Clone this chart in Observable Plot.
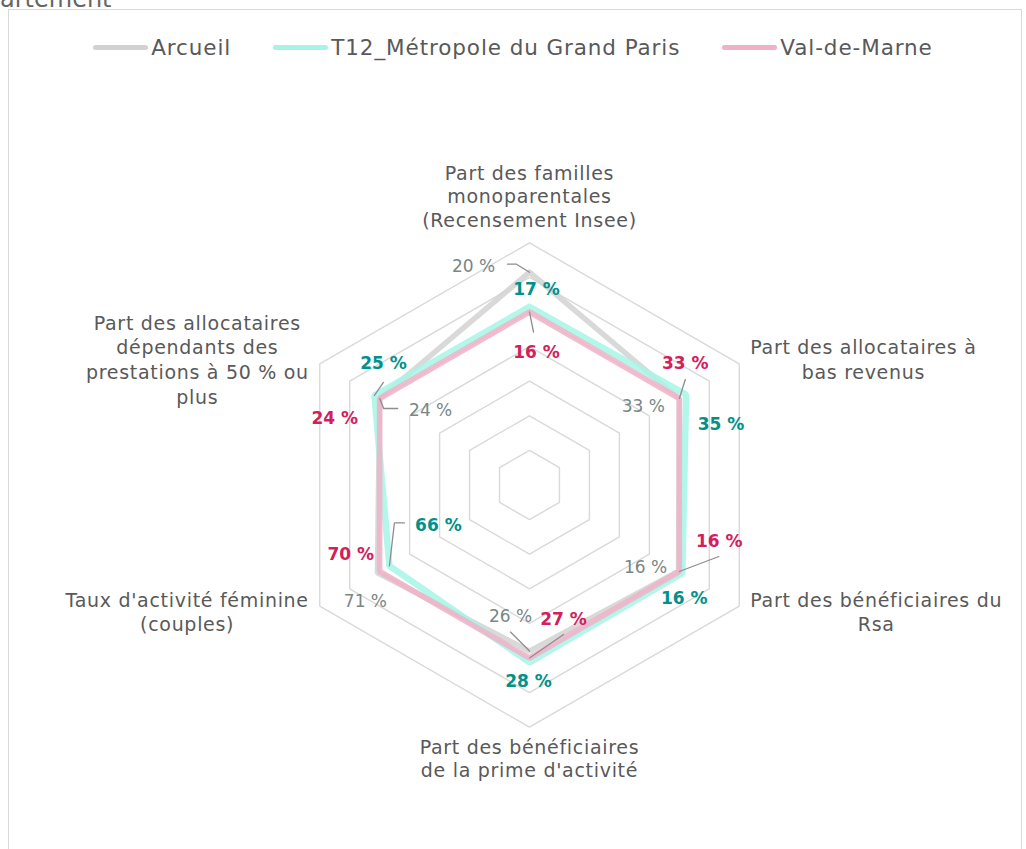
<!DOCTYPE html>
<html>
<head>
<meta charset="utf-8">
<script src="https://cdn.jsdelivr.net/npm/d3@7"></script>
<script src="https://cdn.jsdelivr.net/npm/@observablehq/plot@0.6"></script>
<style>
  body { margin: 0; background: #fff; font-family: "DejaVu Sans", sans-serif; }
  #wrap { position: relative; width: 1026px; height: 849px; overflow: hidden; background: #fff; }
  #frame { position: absolute; left: 8px; top: 9px; width: 1014px; height: 880px; border: 1px solid #d9d9d9; box-sizing: border-box; }
  #title { position: absolute; white-space: nowrap; color: #666; font-size: 24px; line-height: 24px; }
  #legend { position: relative; height: 66px; padding-top: 14px; display: flex; justify-content: center; align-items: center; gap: 42px; font-size: 21.5px; letter-spacing: 0.9px; color: #595959; }
  .item { display: flex; align-items: center; }
  .sw { width: 55px; height: 5px; border-radius: 3px; margin-right: 3px; }
  #chart { position: relative; }
  svg g.axl text, svg text.axl { letter-spacing: 0.7px; }
</style>
</head>
<body>
<div id="wrap">
  <div id="frame"></div>
  <div id="title"></div>
  <div id="legend"></div>
  <div id="chart"></div>
</div>
<script>
// ---------- DATA ----------
const series = ["Arcueil", "T12_Métropole du Grand Paris", "Val-de-Marne"];
const axisLabels = [
  "Part des familles\nmonoparentales\n(Recensement Insee)",
  "Part des allocataires à\nbas revenus",
  "Part des bénéficiaires du\nRsa",
  "Part des bénéficiaires\nde la prime d'activité",
  "Taux d'activité féminine\n(couples)",
  "Part des allocataires\ndépendants des\nprestations à 50 % ou\nplus"
];
// displayed values (%)
const arcueilPct = [20, 33, 16, 26, 71, 24];
const t12Pct     = [17, 35, 16, 28, 66, 25];
const vdmPct     = [16, 33, 16, 27, 70, 24];
// plotted index (Val-de-Marne = 100)
const arcueilIndex = [123, 100, 99.5, 96, 101.5, 100];
const t12Index     = [103, 104.5, 102, 102.5, 93.5, 103.5];
const vdmIndex     = [100, 100, 100, 100, 100, 100];
const gridLevels = [20, 40, 60, 80, 100, 120, 140];

// ---------- STYLES / LAYOUT ----------
const styles = {
  "Arcueil": {line: "#d2d2d2", width: 5.5, label: "#788686", weight: "normal"},
  "T12_Métropole du Grand Paris": {line: "#a6f4e6", width: 6.5, label: "#00918a", weight: "bold"},
  "Val-de-Marne": {line: "#f0b1c7", width: 5.5, label: "#d2205c", weight: "bold"}
};
// label offsets (px) from each vertex, with optional leader line points
const placements = {
  "Arcueil": [
    {dx: -56, dy: -6, leader: [[-13, -8], [-22, -8]]},
    {dx: -36, dy: 8},
    {dx: -33, dy: -4},
    {dx: -19, dy: -35, leader: [[-19, -19]]},
    {dx: -12, dy: 29},
    {dx: 51, dy: 12, leader: [[4, 10], [18, 10]]}
  ],
  "T12_Métropole du Grand Paris": [
    {dx: 7, dy: -17},
    {dx: 35, dy: 30},
    {dx: 2, dy: 25},
    {dx: -1, dy: 19},
    {dx: 49, dy: -40, leader: [[5, -43], [15, -43]]},
    {dx: 9, dy: -32, leader: [[9, -13]]}
  ],
  "Val-de-Marne": [
    {dx: 7, dy: 41, leader: [[4, 20]]},
    {dx: 6, dy: -35, leader: [[6, -19]]},
    {dx: 40, dy: -30, leader: [[39.5, -15]]},
    {dx: 34, dy: -38.5, leader: [[34, -23.5]]},
    {dx: -29, dy: -17},
    {dx: -45, dy: 20}
  ]
};

const seriesData = [
  {name: series[0], idx: arcueilIndex, pct: arcueilPct},
  {name: series[1], idx: t12Index, pct: t12Pct},
  {name: series[2], idx: vdmIndex, pct: vdmPct}
];

// ---------- GEOMETRY ----------
const W = 1026, H = 769;
const k = 1.73;            // px per index unit
const cx = 529, cy = 404.5; // centre in svg px
const xDomain = [-cx / k, (W - cx) / k];
const yDomain = [-(H - cy) / k, cy / k];
const n = axisLabels.length;
const ang = i => i * 2 * Math.PI / n;
const pt = (r, i) => ({x: r * Math.sin(ang(i)), y: r * Math.cos(ang(i))});

// grid
const gridRows = [];
gridLevels.forEach(l => { for (let i = 0; i <= n; i++) gridRows.push({level: l, ...pt(l, i % n)}); });

// series polygons
const polys = seriesData.map(s => {
  const rows = [];
  for (let i = 0; i <= n; i++) rows.push({series: s.name, ...pt(s.idx[i % n], i % n)});
  return rows;
});

// value labels + leaders
const labelRows = [], leaderRows = [];
seriesData.forEach(s => {
  s.pct.forEach((v, i) => {
    const p = pt(s.idx[i], i);
    const pl = placements[s.name][i];
    labelRows.push({series: s.name, text: `${v} %`, x: p.x + pl.dx / k, y: p.y - pl.dy / k});
    if (pl.leader) {
      const id = s.name + i;
      leaderRows.push({id, x: p.x, y: p.y});
      pl.leader.forEach(([dx, dy]) => leaderRows.push({id, x: p.x + dx / k, y: p.y - dy / k}));
    }
  });
});

// axis labels
const axisFont = 19, axisSpacing = 0.7;
const ctx = document.createElement("canvas").getContext("2d");
ctx.font = `${axisFont}px "DejaVu Sans"`;
const maxW = t => Math.max(...t.split("\n").map(l => ctx.measureText(l).width + l.length * axisSpacing));
const axisRows = axisLabels.map((t, i) => {
  const v = pt(140, i);
  const s = Math.sin(ang(i)), c = Math.cos(ang(i));
  let x = v.x, y = v.y, pos;
  if (Math.abs(s) < 0.01) {
    pos = c > 0 ? "top" : "bottom";
    y = c > 0 ? v.y + 16 / k : v.y - 11 / k;
  } else {
    pos = "side";
    x = v.x + Math.sign(s) * (11 + maxW(t) / 2) / k;
    y = v.y + (c > 0 ? 5 : -5) / k;
  }
  return {text: t, x, y, pos};
});

// ---------- PLOT ----------
const marks = [
  Plot.line(gridRows, {x: "x", y: "y", z: "level", stroke: "#d9d9d9", strokeWidth: 1.4})
];
polys.forEach(rows => {
  const st = styles[rows[0].series];
  marks.push(Plot.line(rows, {x: "x", y: "y", stroke: st.line, strokeWidth: st.width, strokeLinejoin: "miter", strokeOpacity: 0.85}));
});
marks.push(Plot.line(leaderRows, {x: "x", y: "y", z: "id", stroke: "#8e8e8e", strokeWidth: 1.3}));
series.forEach(name => {
  const st = styles[name];
  marks.push(Plot.text(labelRows.filter(d => d.series === name), {
    x: "x", y: "y", text: "text", fill: st.label, fontSize: 17, fontWeight: st.weight
  }));
});
const axOpts = {x: "x", y: "y", text: "text", fontSize: axisFont, fill: "#595959", className: "axl"};
marks.push(Plot.text(axisRows.filter(d => d.pos === "top"), {...axOpts, lineAnchor: "bottom", lineHeight: 1.24}));
marks.push(Plot.text(axisRows.filter(d => d.pos === "bottom"), {...axOpts, lineAnchor: "top", lineHeight: 1.2}));
marks.push(Plot.text(axisRows.filter(d => d.pos === "side"), {...axOpts, lineAnchor: "middle", lineHeight: 1.3}));

const chart = Plot.plot({
  width: W, height: H, margin: 0,
  x: {domain: xDomain, axis: null},
  y: {domain: yDomain, axis: null},
  style: {fontFamily: "DejaVu Sans", background: "transparent", overflow: "visible"},
  marks
});
document.getElementById("chart").appendChild(chart);

// legend
const legend = document.getElementById("legend");
series.forEach(name => {
  const it = document.createElement("div");
  it.className = "item";
  const sw = document.createElement("div");
  sw.className = "sw";
  sw.style.background = styles[name].line;
  const tx = document.createElement("span");
  tx.textContent = name;
  it.appendChild(sw); it.appendChild(tx);
  legend.appendChild(it);
});

// clipped title fragment at the very top
const title = document.getElementById("title");
title.textContent = "département";
ctx.font = `24px "DejaVu Sans"`;
title.style.left = (-ctx.measureText("dép").width) + "px";
title.style.top = "-13px";
</script>
</body>
</html>
